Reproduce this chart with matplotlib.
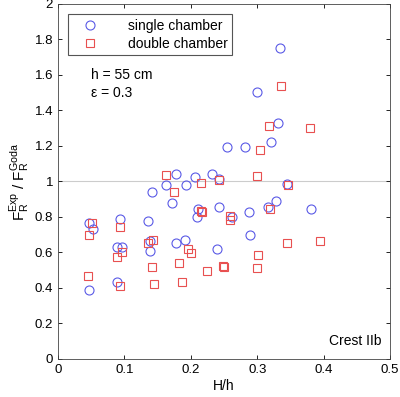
import matplotlib
matplotlib.use("Agg")
import matplotlib.pyplot as plt

plt.rcParams['font.family'] = ['Liberation Sans', 'DejaVu Sans']
plt.rcParams['mathtext.fontset'] = 'custom'
plt.rcParams['mathtext.rm'] = 'Liberation Sans'
plt.rcParams['mathtext.it'] = 'Liberation Sans'

# single chamber (circles)
single_x = [0.046, 0.052, 0.046, 0.093, 0.089, 0.097, 0.089, 0.141, 0.136, 0.139,
            0.138, 0.162, 0.172, 0.177, 0.193, 0.191, 0.211, 0.209, 0.240, 0.243,
            0.177, 0.207, 0.232, 0.242, 0.335, 0.300, 0.331, 0.254, 0.281, 0.321,
            0.345, 0.262, 0.288, 0.317, 0.329, 0.381, 0.289]
single_y = [0.765, 0.732, 0.389, 0.787, 0.631, 0.633, 0.434, 0.943, 0.776, 0.667,
            0.607, 0.982, 0.878, 0.652, 0.982, 0.669, 0.846, 0.802, 0.621, 0.858,
            1.044, 1.027, 1.040, 1.013, 1.752, 1.502, 1.328, 1.194, 1.194, 1.220,
            0.983, 0.798, 0.828, 0.856, 0.892, 0.843, 0.697]

# double chamber (squares)
double_x = [0.051, 0.046, 0.045, 0.093, 0.089, 0.097, 0.094, 0.174, 0.135, 0.143,
            0.141, 0.144, 0.196, 0.200, 0.182, 0.186, 0.215, 0.217, 0.224, 0.216,
            0.163, 0.242, 0.304, 0.300, 0.259, 0.259, 0.320, 0.301, 0.336, 0.318,
            0.379, 0.347, 0.345, 0.394, 0.299, 0.248, 0.250]
double_y = [0.766, 0.700, 0.468, 0.744, 0.573, 0.601, 0.411, 0.939, 0.654, 0.672,
            0.520, 0.423, 0.620, 0.599, 0.543, 0.432, 0.833, 0.828, 0.494, 0.993,
            1.039, 1.006, 1.176, 1.033, 0.806, 0.782, 0.844, 0.583, 1.538, 1.313,
            1.300, 0.978, 0.652, 0.665, 0.514, 0.523, 0.517]

fig = plt.figure(figsize=(4, 3.97), dpi=100)
ax = fig.add_axes([0.145, 0.096, 0.830, 0.894])

ax.axhline(1, color='#cccccc', lw=0.8, zorder=0)
ax.plot(single_x, single_y, 'o', mfc='none', mec='#5a5ae6', ms=6.5, mew=0.8,
        label='single chamber')
ax.plot(double_x, double_y, 's', mfc='none', mec='#e85050', ms=6, mew=0.8,
        label='double chamber')

ax.set_xlim(0, 0.5)
ax.set_ylim(0, 2)
ax.set_xticks([0, 0.1, 0.2, 0.3, 0.4, 0.5])
ax.set_xticklabels(['0', '0.1', '0.2', '0.3', '0.4', '0.5'])
ax.set_yticks([0, 0.2, 0.4, 0.6, 0.8, 1, 1.2, 1.4, 1.6, 1.8, 2])
ax.set_yticklabels(['0', '0.2', '0.4', '0.6', '0.8', '1', '1.2', '1.4', '1.6', '1.8', '2'])
ax.tick_params(direction='in', top=True, right=True, labelsize=9.5, length=3, width=0.6)
for s in ax.spines.values():
    s.set_linewidth(0.6)
    s.set_color('#444444')

ax.set_xlabel('H/h', fontsize=10, labelpad=2)
ax.set_ylabel(r'$\mathregular{F_R^{Exp}\ /\ F_R^{Goda}}$', fontsize=11, labelpad=2)

leg = ax.legend(loc='upper left', bbox_to_anchor=(0.01, 0.99), fontsize=10,
                fancybox=False, edgecolor='#555555', framealpha=1,
                handletextpad=1.5, borderpad=0.3, labelspacing=0.3, handlelength=2.5)
leg.get_frame().set_linewidth(0.8)

ax.text(0.10, 0.80, 'h = 55 cm', transform=ax.transAxes, fontsize=10, va='center')
ax.text(0.10, 0.75, 'ε = 0.3', transform=ax.transAxes, fontsize=10, va='center')
ax.text(0.975, 0.05, 'Crest IIb', transform=ax.transAxes, fontsize=10,
        ha='right', va='center')

fig.savefig('out.png', dpi=100)
